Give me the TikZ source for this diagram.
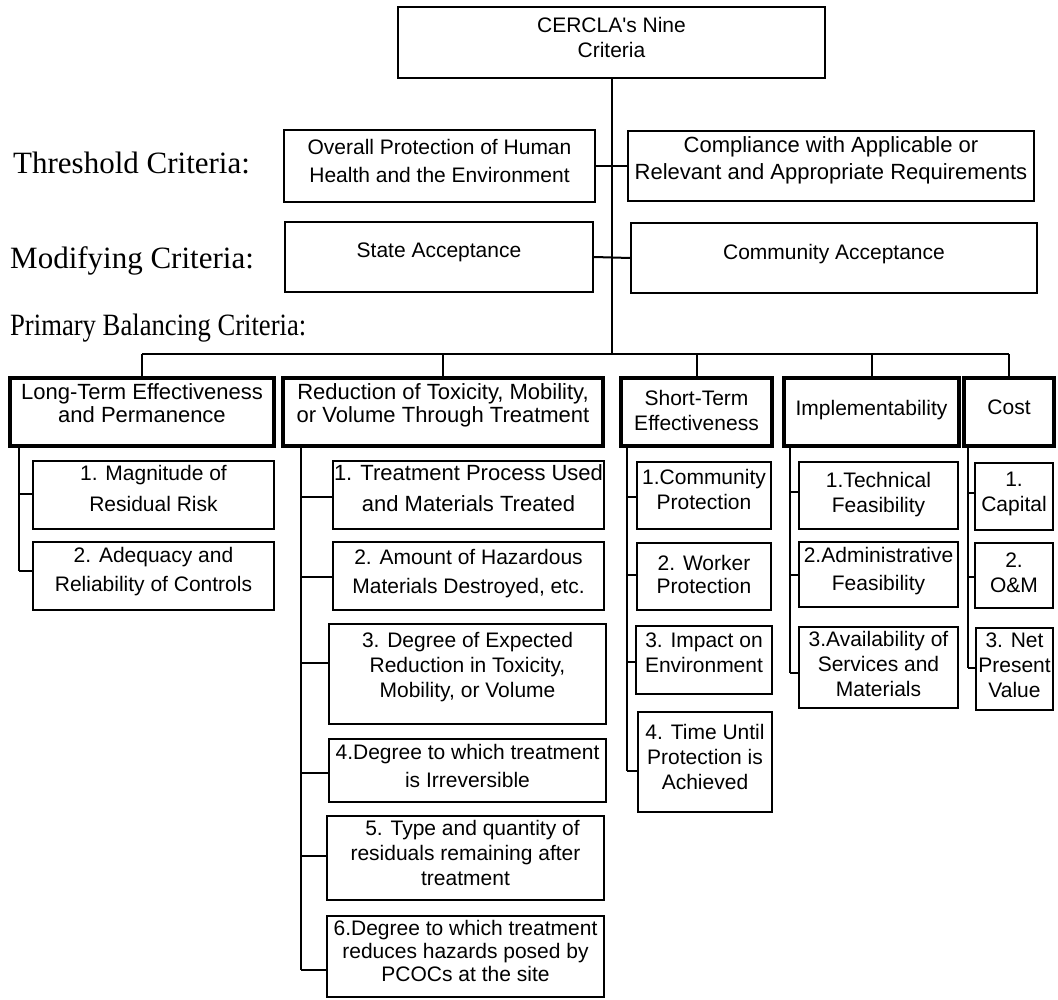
\documentclass[tikz,border=0pt]{standalone}
\usepackage{fontspec}
\setmainfont{Liberation Serif}
\newfontfamily\arialf{Liberation Sans}
\def\boxdp{11}
\begin{document}
\begin{tikzpicture}[x=1pt,y=-1pt,
  up/.code={\pgfmathsetmacro\boxdp{2*#1+1}},
  fs/.style 2 args={font=\arialf\fontsize{#1}{#2}\selectfont},
  box/.style={draw, line width=1.8pt, inner sep=0pt, align=center,
    fs={21}{25}, up=5,
    execute at begin node={\rule{0pt}{16pt}},
    execute at end node={\rule[-\boxdp pt]{0pt}{0pt}}},
  mbox/.style={box, line width=3.4pt},
  conn/.style={line width=2pt},
  lbl/.style={anchor=west, inner sep=0pt, font=\fontsize{31}{36}\selectfont}]
\useasboundingbox (0,0) rectangle (1058,1000);

% side labels
\node[lbl] (thr) at (13,163) {Threshold Criteria:};
\node[lbl] (mod) at (10,261) {Modifying Criteria:};
\node[lbl, xscale=0.86] (pri) at (10,328) {Primary Balancing Criteria:};

% top levels
\node[box, minimum width=427pt, minimum height=71pt] (top) at (611.5,42.5) {CERCLA\textquotesingle s Nine\\Criteria};
\node[box, fs={21}{28}, minimum width=311pt, minimum height=72pt] (ov) at (439.5,166) {Overall Protection of Human\\Health and the Environment};
\node[box, fs={22}{27}, up=7, minimum width=406pt, minimum height=70pt] (co) at (831,166) {Compliance with Applicable or\\Relevant and Appropriate Requirements};
\node[box, up=7, minimum width=308pt, minimum height=70pt] (st) at (439,257) {State Acceptance};
\node[box, up=6, minimum width=406pt, minimum height=70pt] (cm) at (834,258) {Community Acceptance};

% primary balancing criteria
\node[mbox, fs={22}{23}, up=8, minimum width=264pt, minimum height=68pt] (LT) at (142,412) {Long-Term Effectiveness\\and Permanence};
\node[mbox, fs={22}{23}, up=8, minimum width=320pt, minimum height=68pt] (Red) at (443,412) {Reduction of Toxicity, Mobility,\\or Volume Through Treatment};
\node[mbox, up=1, minimum width=151pt, minimum height=68pt] (ST) at (696.5,412) {Short-Term\\Effectiveness};
\node[mbox, up=4, minimum width=175pt, minimum height=68pt] (Impl) at (871.5,412) {Implementability};
\node[mbox, up=5, minimum width=90pt, minimum height=68pt] (Cost) at (1009,412) {Cost};

% long-term subs
\node[box, fs={21}{31}, up=6, minimum width=241pt, minimum height=68pt] (m1) at (153.5,495) {1. Magnitude of\\Residual Risk};
\node[box, fs={21}{29}, up=6, minimum width=241pt, minimum height=68pt] (m2) at (153.5,576) {2. Adequacy and\\Reliability of Controls};

% reduction subs
\node[box, fs={22}{31}, up=6, minimum width=271pt, minimum height=68pt] (r1) at (468.5,495) {1. Treatment Process Used\\and Materials Treated};
\node[box, fs={21}{29}, up=4, minimum width=271pt, minimum height=68pt] (r2) at (468.5,576) {2. Amount of Hazardous\\Materials Destroyed, etc.};
\node[box, up=9, minimum width=277pt, minimum height=100pt] (r3) at (467.5,674) {3. Degree of Expected\\Reduction in Toxicity,\\Mobility, or Volume};
\node[box, fs={21}{28}, up=4, minimum width=277pt, minimum height=63pt] (r4) at (467.5,770.5) {4.Degree to which treatment\\is Irreversible};
\node[box, up=5, minimum width=277pt, minimum height=84pt] (r5) at (465.5,858) {\hspace*{14pt}5. Type and quantity of\\residuals remaining after\\treatment};
\node[box, fs={21}{23}, up=5, minimum width=277pt, minimum height=81pt] (r6) at (465.5,956.5) {6.Degree to which treatment\\reduces hazards posed by\\PCOCs at the site};

% short-term subs
\node[box, up=6, minimum width=134pt, minimum height=67pt] (s1) at (704,495.5) {1.Community\\Protection};
\node[box, fs={21}{23}, up=2, minimum width=134pt, minimum height=67pt] (s2) at (704,576.5) {2. Worker\\Protection};
\node[box, up=7, minimum width=136pt, minimum height=68pt] (s3) at (704,660) {3. Impact on\\Environment};
\node[box, up=5, minimum width=134pt, minimum height=100pt] (s4) at (705,762) {4. Time Until\\Protection is\\Achieved};

% implementability subs
\node[box, up=3, minimum width=159pt, minimum height=67pt] (i1) at (878.5,495.5) {1.Technical\\Feasibility};
\node[box, fs={21}{28}, up=5, minimum width=159pt, minimum height=65pt] (i2) at (878.5,574.5) {2.Administrative\\Feasibility};
\node[box, up=3, minimum width=159pt, minimum height=81pt] (i3) at (878.5,667.5) {3.Availability of\\Services and\\Materials};

% cost subs
\node[box, up=4, minimum width=78pt, minimum height=67pt] (c1) at (1014,496.5) {1.\\Capital};
\node[box, up=2, minimum width=78pt, minimum height=65pt] (c2) at (1014,575.5) {2.\\O\&M};
\node[box, up=3, minimum width=77pt, minimum height=82pt] (c3) at (1014.5,669) {3. Net\\Present\\Value};

% trunk and bar
\coordinate (barY) at (0,354);
\draw[conn] (top.south) -- (top.south |- barY);
\draw[conn] (ov.east) -- (co.west);
\draw[conn] (st.east) -- (cm.west);
\draw[conn] (LT.north |- barY) -- (Cost.north |- barY);
\foreach \n in {LT,Red,ST,Impl,Cost}
  \draw[conn] (\n.north) -- (\n.north |- barY);

% connector points
\coordinate (pm1) at (19,494);  \coordinate (pm2) at (19,571);
\coordinate (pr1) at (301,497); \coordinate (pr2) at (301,577);
\coordinate (pr3) at (301,663); \coordinate (pr4) at (301,773);
\coordinate (pr5) at (301,856); \coordinate (pr6) at (301,970);
\coordinate (ps1) at (627,497); \coordinate (ps2) at (627,575);
\coordinate (ps3) at (627,662); \coordinate (ps4) at (627,771);
\coordinate (pi1) at (790,492); \coordinate (pi2) at (790,575);
\coordinate (pi3) at (790,673);
\coordinate (pc1) at (968,493); \coordinate (pc2) at (968,577);
\coordinate (pc3) at (968,668);

\draw[conn] (LT.south -| pm1) -- (pm2);
\draw[conn] (Red.south -| pr1) -- (pr6);
\draw[conn] (ST.south -| ps1) -- (ps4);
\draw[conn] (Impl.south -| pi1) -- (pi3);
\draw[conn] (Cost.south -| pc1) -- (pc3);

\foreach \n in {m1,m2,r1,r2,r3,r4,r5,r6,s1,s2,s3,s4,i1,i2,i3,c1,c2,c3}
  \draw[conn] (p\n) -- (p\n -| \n.west);
\end{tikzpicture}
\end{document}
